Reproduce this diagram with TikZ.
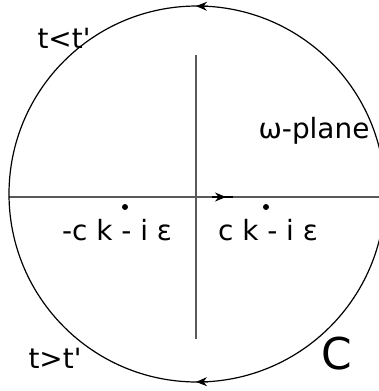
\documentclass[tikz,border=0pt]{standalone}
\usepackage{fontspec}
\setmainfont{DejaVu Sans}
\usetikzlibrary{arrows.meta}
\tikzset{
  contour/.style={draw=black, line width=1.2bp},
  axis/.style={draw=black!65, line width=1.5bp},
  lbl/.style={inner sep=0pt, font=\fontsize{28}{31}\selectfont},
  pole/.style={circle, fill=black, inner sep=0pt, minimum size=6bp},
  tip/.style={-{Stealth[length=11bp,width=9bp]}, line width=1.2bp}
}
\begin{document}
\begin{tikzpicture}[x=1bp,y=-1bp]
\useasboundingbox (0,0) rectangle (379,391);
\fill[white] (0,0) rectangle (379,391);
% axes
\coordinate (xl) at (9,197);
\coordinate (xr) at (379,197);
\coordinate (yt) at (196,55);
\coordinate (yb) at (196,339);
\draw[axis] (xl) -- (xr);
\draw[axis] (yt) -- (yb);
% contour circle
\coordinate (O) at (197,194);
\draw[contour] (O) circle[radius=188];
% arrows on contour
\coordinate (ta) at (208,6.3);
\coordinate (tb) at (196,6.1);
\draw[tip] (ta) -- (tb);
\coordinate (ba) at (208,381.7);
\coordinate (bb) at (196,381.9);
\draw[tip] (ba) -- (bb);
% arrow on real axis
\coordinate (aa) at (212,197);
\coordinate (ab) at (226,197);
\coordinate (ac) at (233,197);
\draw[line width=1.5bp] (aa) -- (ac);
\draw[tip] (aa) -- (ab);
% poles
\node[pole] (p1) at (125,207) {};
\node[pole] (p2) at (266,207) {};
% labels
\node[lbl] (l1) at (117,230) {-c k - i ε};
\node[lbl] (l2) at (268,230) {c k - i ε};
\node[lbl] (tl) at (64,38) {t<t\textquotesingle};
\node[lbl] (tg) at (55,358) {t>t\textquotesingle};
\node[lbl] (wp) at (314,131) {ω-plane};
\node[inner sep=0pt, font=\fontsize{44}{48}\selectfont] (C) at (337,354) {C};
\end{tikzpicture}
\end{document}
